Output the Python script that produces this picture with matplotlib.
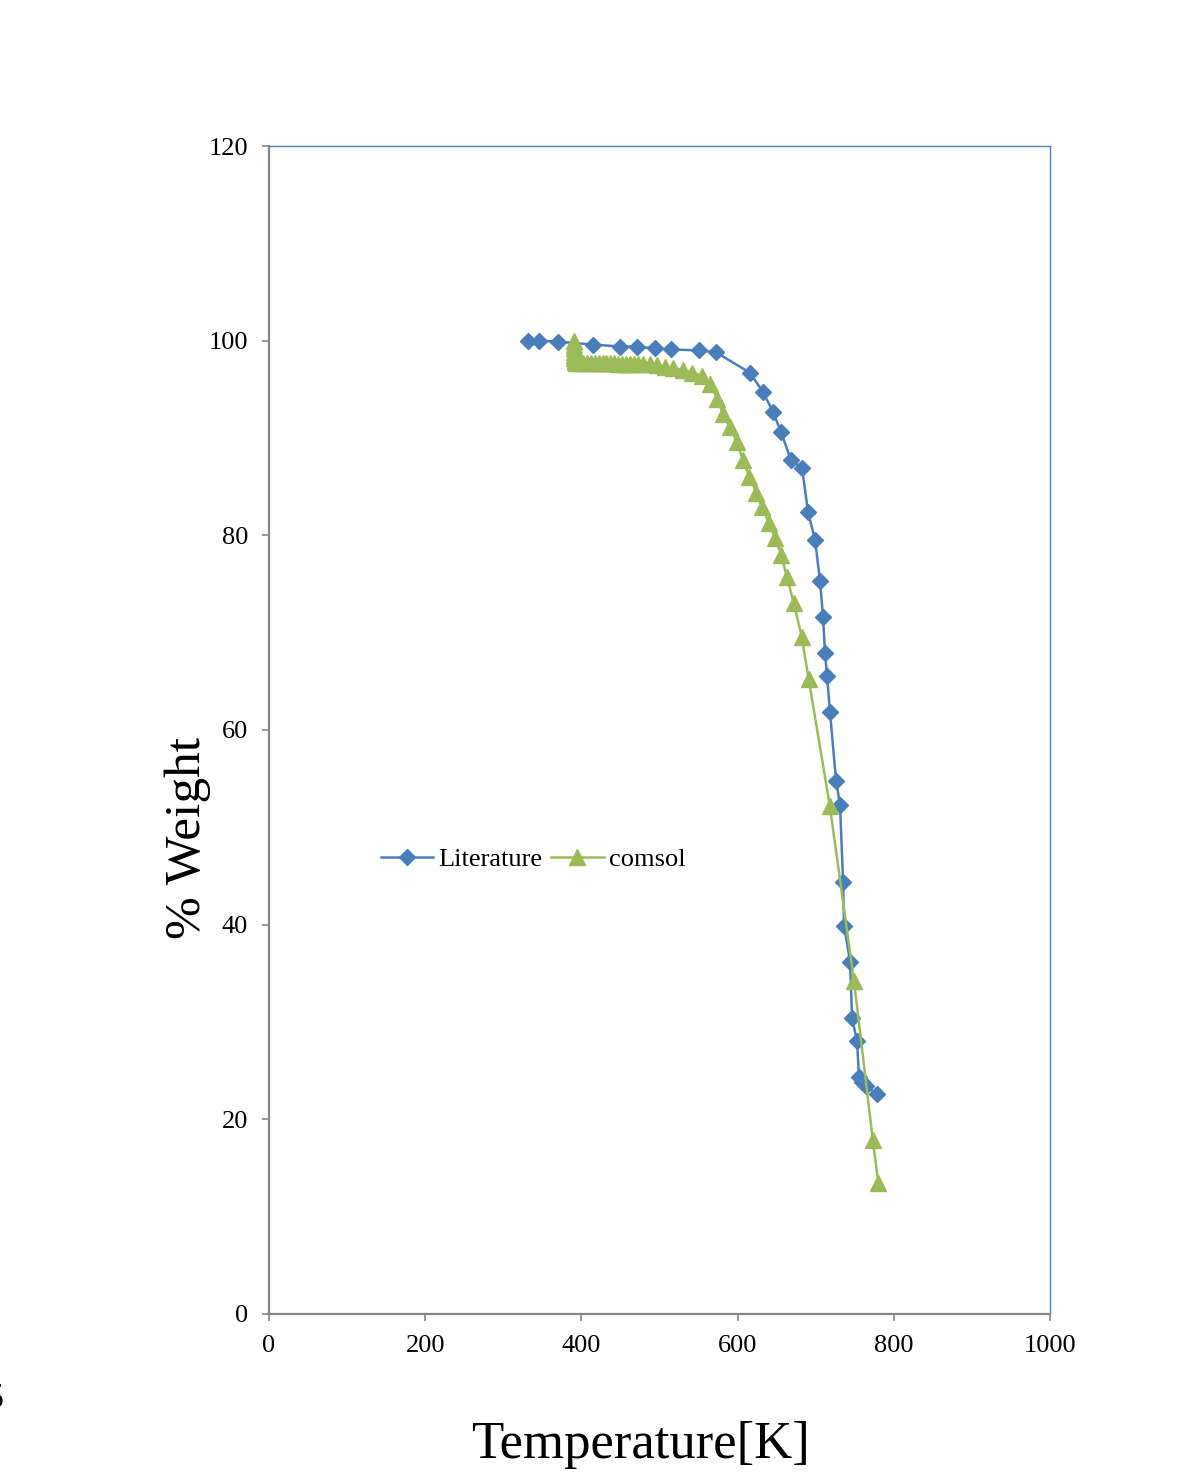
import matplotlib
matplotlib.use("Agg")
import matplotlib.pyplot as plt

# TGA curves: weight loss vs temperature
lit_T = [331.6, 345.7, 370.0, 414.9, 449.4, 471.2, 494.2, 514.7, 550.6, 572.3,
         615.9, 632.5, 645.3, 655.6, 668.4, 682.5, 690.1, 699.1, 705.5, 709.3,
         711.9, 714.5, 718.3, 726.0, 731.1, 735.0, 736.2, 743.9, 746.5, 752.9,
         755.4, 759.3, 764.4, 778.5]
lit_W = [100.0, 100.0, 99.9, 99.6, 99.4, 99.4, 99.2, 99.1, 99.0, 98.8,
         96.7, 94.7, 92.7, 90.6, 87.7, 86.9, 82.4, 79.5, 75.3, 71.6,
         67.9, 65.5, 61.8, 54.8, 52.3, 44.4, 39.9, 36.2, 30.4, 28.0,
         24.3, 23.8, 23.4, 22.6]

com_T = [390.5, 390.5, 390.6, 390.7, 390.8, 391.0, 391.3, 391.8,
         393, 397, 402, 407, 412, 417, 422, 427, 432, 437, 442, 447, 452,
         457, 462, 467, 472, 479, 488, 497, 507, 517, 530, 542, 554, 565,
         574, 581, 590, 599, 607, 615, 624, 631, 640, 648, 656, 663, 672,
         682, 691, 718, 749, 773, 780]
com_W = [100.0, 99.6, 99.2, 98.8, 98.5, 98.2, 98.0, 97.8,
         97.7, 97.7, 97.7, 97.7, 97.7, 97.7, 97.7, 97.7, 97.7, 97.7, 97.7, 97.65, 97.65,
         97.65, 97.65, 97.65, 97.6, 97.6, 97.6, 97.5, 97.3, 97.2, 97.0, 96.7, 96.4, 95.5,
         94.0, 92.5, 91.1, 89.6, 87.7, 86.0, 84.4, 82.9, 81.3, 79.7, 78.0, 75.7, 73.0,
         69.6, 65.2, 52.2, 34.2, 17.9, 13.5]

x_ticks = [0, 200, 400, 600, 800, 1000]
y_ticks = [0, 20, 40, 60, 80, 100, 120]

plt.rcParams['font.family'] = ['Liberation Serif', 'DejaVu Serif']

fig = plt.figure(figsize=(11.9, 14.84), dpi=100)
ax = fig.add_axes([0.2261, 0.1146, 0.6563, 0.7870])

blue = '#4a7ebb'
green = '#9bbb59'
ax.plot(lit_T, lit_W, color=blue, lw=1.8, marker='D', ms=8,
        mec=blue, mfc=blue, label='Literature')
ax.plot(com_T, com_W, color=green, lw=1.8, marker='^', ms=11,
        mec=green, mfc=green, label='comsol')

ax.set_xlim(0, 1000)
ax.set_ylim(0, 120)
ax.set_xticks(x_ticks)
ax.set_yticks(y_ticks)
ax.tick_params(axis='both', direction='out', length=5, width=1.2,
               color='#868686', labelsize=19, pad=10)

for side in ['left', 'bottom']:
    ax.spines[side].set_color('#868686')
    ax.spines[side].set_linewidth(1.6)
for side in ['top', 'right']:
    ax.spines[side].set_color('#4f81bd')
    ax.spines[side].set_linewidth(1)

leg = ax.legend(loc='center', bbox_to_anchor=(0.338, 0.389), ncol=2,
                frameon=False, fontsize=19, numpoints=1, handlelength=2.0,
                handletextpad=0.2, columnspacing=0.3)

fig.text(0.158, 0.435, '% Weight', rotation=90, fontsize=37,
         ha='center', va='center')
fig.text(0.538, 0.026, 'Temperature[K]', fontsize=38,
         ha='center', va='center')
# page fragment at the lower left edge
fig.text(-0.012, 0.057, '5', fontsize=26, ha='left', va='center')

fig.savefig('out.png', dpi=100)
